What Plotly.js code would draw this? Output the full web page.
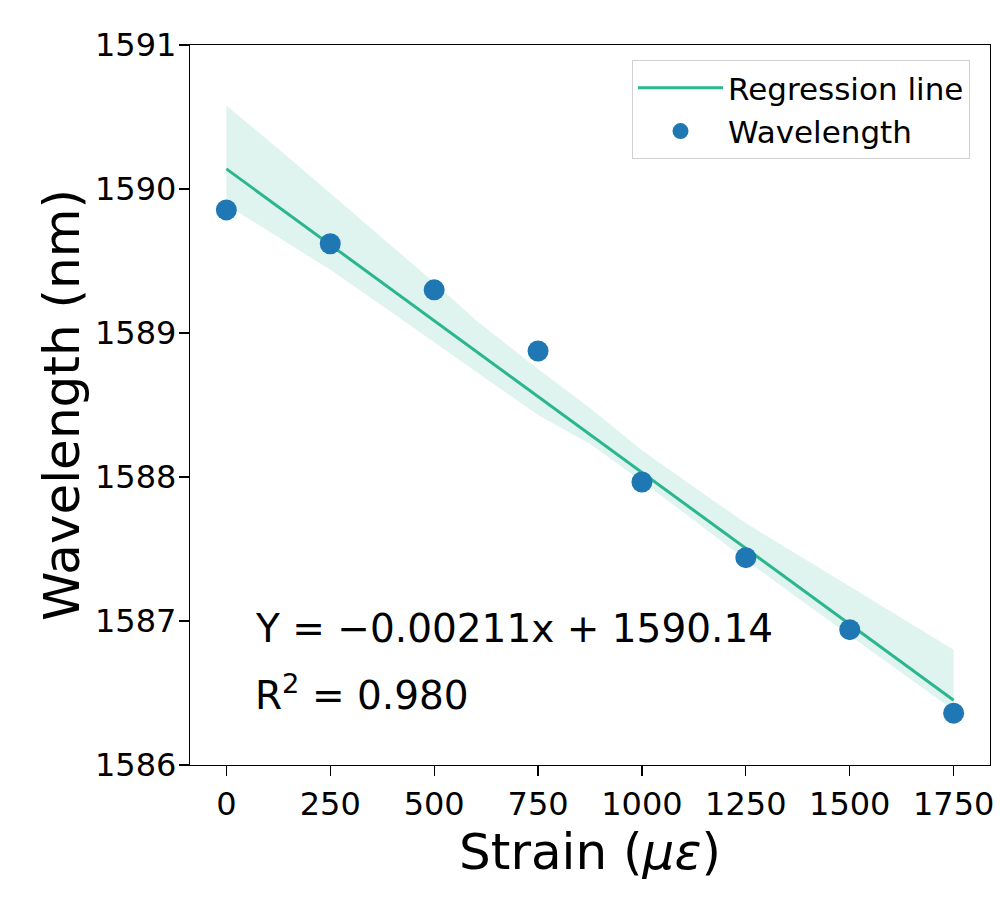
<!DOCTYPE html>
<html>
<head>
<meta charset="utf-8">
<script src="https://cdn.plot.ly/plotly-3.0.1.min.js"></script>
<style>
  html, body { margin: 0; padding: 0; background: #fff; }
  #chart { width: 1000px; height: 900px; }
</style>
</head>
<body>
<div id="chart"></div>
<script>
// measured points
var strain = [0, 250, 500, 750, 1000, 1250, 1500, 1750];
var wavelength = [1589.855, 1589.62, 1589.30, 1588.875, 1587.965, 1587.44, 1586.94, 1586.36];

// fitted line, read at its two ends
var fitX = [0, 1750];
var fitY = [1590.14, 1586.45];

// confidence band edges
var bandX = [0, 125, 250, 375, 500, 600, 750, 875, 1000, 1125, 1250, 1375, 1500, 1625, 1750];
var bandUpper = [1590.58, 1590.28, 1589.97, 1589.66, 1589.35, 1589.09, 1588.75, 1588.48, 1588.185,
                 1587.93, 1587.68, 1587.46, 1587.24, 1587.02, 1586.80];
var bandLower = [1589.89, 1589.665, 1589.44, 1589.19, 1588.935, 1588.73, 1588.43, 1588.23, 1587.97,
                 1587.70, 1587.425, 1587.16, 1586.90, 1586.64, 1586.38];

var xTicks = [0, 250, 500, 750, 1000, 1250, 1500, 1750];
var yTicks = [1586, 1587, 1588, 1589, 1590, 1591];

var lineColor = "rgb(43,182,142)";
var font = "DejaVu Sans, sans-serif";

var lower = {
  x: bandX, y: bandLower,
  mode: "lines", type: "scatter",
  line: { width: 0, color: lineColor },
  showlegend: false, hoverinfo: "skip"
};
var upper = {
  x: bandX, y: bandUpper,
  mode: "lines", type: "scatter",
  fill: "tonexty",
  fillcolor: "rgba(43,182,142,0.15)",
  line: { width: 0, color: lineColor },
  showlegend: false, hoverinfo: "skip"
};
var fit = {
  x: fitX, y: fitY,
  mode: "lines", type: "scatter",
  name: "Regression line",
  line: { color: lineColor, width: 3 }
};
var pts = {
  x: strain, y: wavelength,
  mode: "markers", type: "scatter",
  name: "Wavelength",
  marker: { color: "#1f77b4", size: 21 }
};

var layout = {
  width: 1000, height: 900,
  margin: { l: 190, r: 10, t: 45, b: 135 },
  paper_bgcolor: "#fff",
  plot_bgcolor: "#fff",
  font: { family: font, color: "#000" },
  showlegend: true,
  legend: {
    x: 0.975, y: 0.979, xanchor: "right", yanchor: "top",
    traceorder: "normal",
    bgcolor: "rgba(255,255,255,0.8)",
    bordercolor: "#d0d0d0", borderwidth: 1,
    font: { family: font, size: 31, color: "#000" },
    itemwidth: 85
  },
  xaxis: {
    range: [-87.5, 1837.5],
    tickvals: xTicks,
    ticktext: xTicks.map(String),
    showgrid: false, zeroline: false,
    showline: true, linecolor: "#000", linewidth: 1.2, mirror: true,
    ticks: "outside", ticklen: 10, tickwidth: 1.2, tickcolor: "#000",
    tickfont: { family: font, size: 32, color: "#000" },
    title: {
      text: "Strain (<i>με</i>)",
      font: { family: font, size: 50, color: "#000" },
      standoff: 0
    }
  },
  yaxis: {
    range: [1586, 1591],
    tickvals: yTicks,
    ticktext: yTicks.map(String),
    showgrid: false, zeroline: false,
    showline: true, linecolor: "#000", linewidth: 1.2, mirror: true,
    ticks: "outside", ticklen: 10, tickwidth: 1.2, tickcolor: "#000",
    ticklabelstandoff: -4,
    tickfont: { family: font, size: 32, color: "#000" }
  },
  annotations: [
    {
      // y-axis title, placed by hand to sit where the reference has it
      xref: "paper", yref: "paper",
      x: -0.16, y: 0.5, xanchor: "center", yanchor: "middle",
      textangle: -90,
      text: "Wavelength (nm)",
      showarrow: false,
      font: { family: font, size: 50, color: "#000" }
    },
    {
      xref: "paper", yref: "paper",
      x: 0.079, y: 0.19, xanchor: "left", yanchor: "middle",
      text: "Y = \u22120.00211x + 1590.14",
      showarrow: false,
      font: { family: font, size: 39, color: "#000" }
    },
    {
      xref: "paper", yref: "paper",
      x: 0.079, y: 0.10, xanchor: "left", yanchor: "middle",
      text: "R<sup>2</sup> = 0.980",
      showarrow: false,
      font: { family: font, size: 39, color: "#000" }
    }
  ]
};

Plotly.newPlot("chart", [lower, upper, fit, pts], layout, { displayModeBar: false, staticPlot: true });
</script>
</body>
</html>
